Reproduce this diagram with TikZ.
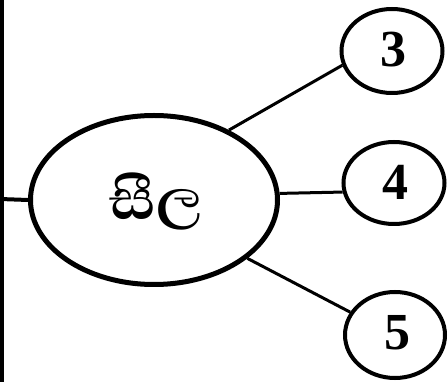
\documentclass[tikz,border=0pt]{standalone}
\usepackage{fontspec}
\setmainfont{Liberation Serif}
\newfontfamily\sinhalafont[Script=Sinhala]{Abhaya Libre}
\usetikzlibrary{shapes.geometric}
\begin{document}
\begin{tikzpicture}[x=1pt,y=-1pt,
  bubble/.style={draw=black,ellipse,inner sep=0pt},
  link/.style={draw=black,line width=3pt},
  numtext/.style={font=\fontsize{52}{58}\selectfont\bfseries}]
\useasboundingbox (0,0) rectangle (448,382);
\node[bubble,line width=5pt,minimum width=247pt,minimum height=169pt] (main) at (154,200) {};
\node[font=\sinhalafont\fontsize{73}{85}\selectfont\bfseries] (lbl) at (156,202) {සීල};
\node[bubble,line width=4pt,minimum width=101pt,minimum height=84pt] (c3) at (392,51) {};
\node[bubble,line width=4pt,minimum width=101pt,minimum height=82pt] (c4) at (394,183) {};
\node[bubble,line width=4pt,minimum width=100pt,minimum height=86pt] (c5) at (395,335) {};
\node[numtext] (n3) at (393,50) {3};
\node[numtext] (n4) at (395,182) {4};
\node[numtext] (n5) at (397,333) {5};
\coordinate (top) at (2,0);
\coordinate (bot) at (2,382);
\coordinate (left) at (0,199);
\draw[line width=4pt] (top) -- (bot);
\draw[line width=4pt] (left) -- (main.west);
\draw[link] (main.43) -- (c3.196);
\draw[link] (main.3) -- (c4.190);
\draw[link] (main.-32) -- (c5.153);
\end{tikzpicture}
\end{document}
